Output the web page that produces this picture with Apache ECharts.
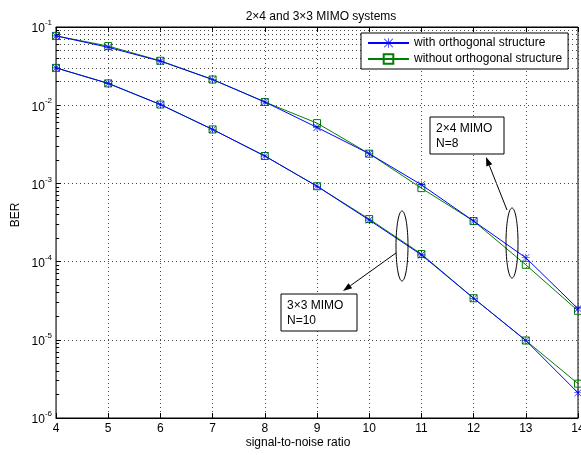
<!DOCTYPE html>
<html>
<head>
<meta charset="utf-8">
<script src="https://cdn.jsdelivr.net/npm/echarts@6/dist/echarts.min.js"></script>
<style>
  html, body { margin: 0; padding: 0; background: #fff; }
  #chart { width: 581px; height: 455px; }
</style>
</head>
<body>
<div id="chart"></div>
<script>
var snr = [4, 5, 6, 7, 8, 9, 10, 11, 12, 13, 14];

// 2x4 MIMO, N=8
var ber24With = [0.077, 0.055, 0.0366, 0.0213, 0.011, 0.0052, 0.0024, 9.6e-4, 3.3e-4, 1.12e-4, 2.5e-5];
var ber24Without = [0.077, 0.057, 0.037, 0.0213, 0.011, 0.0059, 0.0024, 8.7e-4, 3.3e-4, 9.1e-5, 2.35e-5];
// 3x3 MIMO, N=10
var ber33With = [0.030, 0.019, 0.0102, 0.0049, 0.00224, 9.2e-4, 3.4e-4, 1.22e-4, 3.4e-5, 9.8e-6, 2.1e-6];
var ber33Without = [0.030, 0.019, 0.0102, 0.0049, 0.00224, 9.2e-4, 3.5e-4, 1.25e-4, 3.4e-5, 9.8e-6, 2.75e-6];

var decades = [-6, -5, -4, -3, -2];
var mantissas = [2, 3, 4, 5, 6, 7, 8, 9];

var FONT = 'Liberation Sans, Arial, Helvetica, sans-serif';
var BLUE = '#0000ff';
var GREEN = '#008000';
var STAR = 'path://M9.3,0L10.7,0L10.7,20L9.3,20Z M0,9.3L20,9.3L20,10.7L0,10.7Z M1.5,0.5L19.5,18.5L18.5,19.5L0.5,1.5Z M18.5,0.5L19.5,1.5L1.5,19.5L0.5,18.5Z';

function pairs(ys) {
    return snr.map(function (x, i) { return [x, ys[i]]; });
}

// minor grid lines and ticks of the log axis (2..9 in each decade)
var minorGrid = [];
var minorTicks = [];
decades.forEach(function (d) {
    mantissas.forEach(function (m) {
        var v = m * Math.pow(10, d);
        minorGrid.push({ yAxis: v });
        minorTicks.push([{ coord: [4, v] }, { coord: [4.06, v] }]);
    });
});

function arrow(x1, y1, x2, y2) {
    var dx = x2 - x1, dy = y2 - y1;
    var len = Math.sqrt(dx * dx + dy * dy);
    var ux = dx / len, uy = dy / len;
    var bx = x2 - ux * 9, by = y2 - uy * 9;
    var px = -uy * 3.2, py = ux * 3.2;
    return [
        { type: 'line', shape: { x1: x1, y1: y1, x2: bx, y2: by }, style: { stroke: '#000', lineWidth: 1 } },
        { type: 'polygon', shape: { points: [[x2, y2], [bx + px, by + py], [bx - px, by - py]] }, style: { fill: '#000' } }
    ];
}

function labelBox(x, y, w, h, lines) {
    return [
        { type: 'rect', shape: { x: x, y: y, width: w, height: h }, style: { fill: '#fff', stroke: '#000', lineWidth: 1 }, z: 10 },
        { type: 'text', x: x + 6, y: y + 4, z: 11, style: { text: lines.join('\n'), font: '12px ' + FONT, fill: '#000', lineHeight: 15 } }
    ];
}

var dotted = { type: [1, 3], color: '#444', width: 1 };

var chart = echarts.init(document.getElementById('chart'));

var option = {
    animation: false,
    backgroundColor: '#fff',
    title: {
        text: '2×4 and 3×3 MIMO systems',
        left: 316,
        top: 6,
        textAlign: 'center',
        textStyle: { fontFamily: FONT, fontSize: 12, fontWeight: 'normal', color: '#000' }
    },
    grid: {
        left: 56,
        right: 3,
        top: 27,
        bottom: 37,
        outerBoundsMode: 'none',
        containLabel: false,
        show: true,
        borderColor: '#000',
        borderWidth: 1,
        backgroundColor: 'transparent'
    },
    legend: {
        orient: 'vertical',
        left: 361,
        top: 33,
        padding: [4, 6, 4, 6],
        itemGap: 4,
        itemWidth: 41,
        itemHeight: 12,
        backgroundColor: '#fff',
        borderColor: '#000',
        borderWidth: 1,
        borderRadius: 0,
        textStyle: { fontFamily: FONT, fontSize: 12, color: '#000' },
        data: ['with orthogonal structure', 'without orthogonal structure']
    },
    xAxis: [{
        type: 'value',
        min: 4,
        max: 14,
        interval: 1,
        axisLine: { show: true, lineStyle: { color: '#000' } },
        axisTick: { show: true, inside: true, length: 5, lineStyle: { color: '#000' } },
        axisLabel: { margin: 5, fontFamily: FONT, fontSize: 12, color: '#000' },
        splitLine: { show: true, lineStyle: dotted }
    }, {
        type: 'value',
        position: 'top',
        min: 4,
        max: 14,
        interval: 1,
        axisLine: { show: true, lineStyle: { color: '#000' } },
        axisTick: { show: true, inside: true, length: 5, lineStyle: { color: '#000' } },
        axisLabel: { show: false },
        splitLine: { show: false }
    }],
    yAxis: {
        type: 'log',
        logBase: 10,
        min: 1e-6,
        max: 1e-1,
        axisLine: { show: true, lineStyle: { color: '#666', width: 1 } },
        axisTick: { show: true, inside: true, length: 5, lineStyle: { color: '#000' } },
        splitLine: { show: true, lineStyle: dotted },
        axisLabel: {
            margin: 4,
            formatter: function (v) {
                var e = Math.round(Math.log(v) / Math.LN10);
                return '{b|10}{s|' + e + '}';
            },
            rich: {
                b: { fontFamily: FONT, fontSize: 12, color: '#000', verticalAlign: 'bottom', lineHeight: 16 },
                s: { fontFamily: FONT, fontSize: 8, color: '#000', verticalAlign: 'top', lineHeight: 16 }
            }
        }
    },
    series: [{
        name: 'with orthogonal structure',
        type: 'line',
        data: pairs(ber24With),
        symbol: STAR,
        symbolSize: 8,
        showAllSymbol: true,
        lineStyle: { color: BLUE, width: 1 },
        itemStyle: { color: BLUE },
        z: 4,
        markLine: {
            silent: true,
            symbol: 'none',
            z: 1,
            label: { show: false },
            lineStyle: dotted,
            emphasis: { disabled: true },
            data: minorGrid
        }
    }, {
        name: 'without orthogonal structure',
        type: 'line',
        data: pairs(ber24Without),
        symbol: 'rect',
        symbolSize: 7,
        lineStyle: { color: GREEN, width: 1 },
        itemStyle: { color: 'rgba(0,0,0,0)', borderColor: GREEN, borderWidth: 1 },
        z: 3,
        markLine: {
            silent: true,
            symbol: 'none',
            z: 1,
            label: { show: false },
            lineStyle: { type: 'solid', color: '#000', width: 1 },
            emphasis: { disabled: true },
            data: minorTicks
        }
    }, {
        name: 'with orthogonal structure',
        type: 'line',
        data: pairs(ber33With),
        symbol: STAR,
        symbolSize: 8,
        lineStyle: { color: BLUE, width: 1 },
        itemStyle: { color: BLUE },
        z: 4
    }, {
        name: 'without orthogonal structure',
        type: 'line',
        data: pairs(ber33Without),
        symbol: 'rect',
        symbolSize: 7,
        lineStyle: { color: GREEN, width: 1 },
        itemStyle: { color: 'rgba(0,0,0,0)', borderColor: GREEN, borderWidth: 1 },
        z: 3
    }],
    graphic: [
        { type: 'text', x: 298, y: 443, style: { text: 'signal-to-noise ratio', font: '12px ' + FONT, fill: '#000', textAlign: 'center', textVerticalAlign: 'middle' } },
        { type: 'text', x: 16, y: 215, rotation: Math.PI / 2, style: { text: 'BER', font: '12px ' + FONT, fill: '#000', textAlign: 'center', textVerticalAlign: 'middle' } },
        { type: 'ellipse', shape: { cx: 402, cy: 246, rx: 6, ry: 35 }, style: { fill: 'none', stroke: '#000', lineWidth: 1 }, z: 10 },
        { type: 'ellipse', shape: { cx: 512, cy: 243, rx: 6, ry: 35 }, style: { fill: 'none', stroke: '#000', lineWidth: 1 }, z: 10 }
    ]
        .concat(arrow(507, 210, 486, 157))
        .concat(arrow(396, 253, 343, 291))
        .concat(labelBox(430, 117, 74, 37, ['2×4 MIMO', 'N=8']))
        .concat(labelBox(281, 294, 76, 37, ['3×3 MIMO', 'N=10']))
};

chart.setOption(option);
</script>
</body>
</html>
